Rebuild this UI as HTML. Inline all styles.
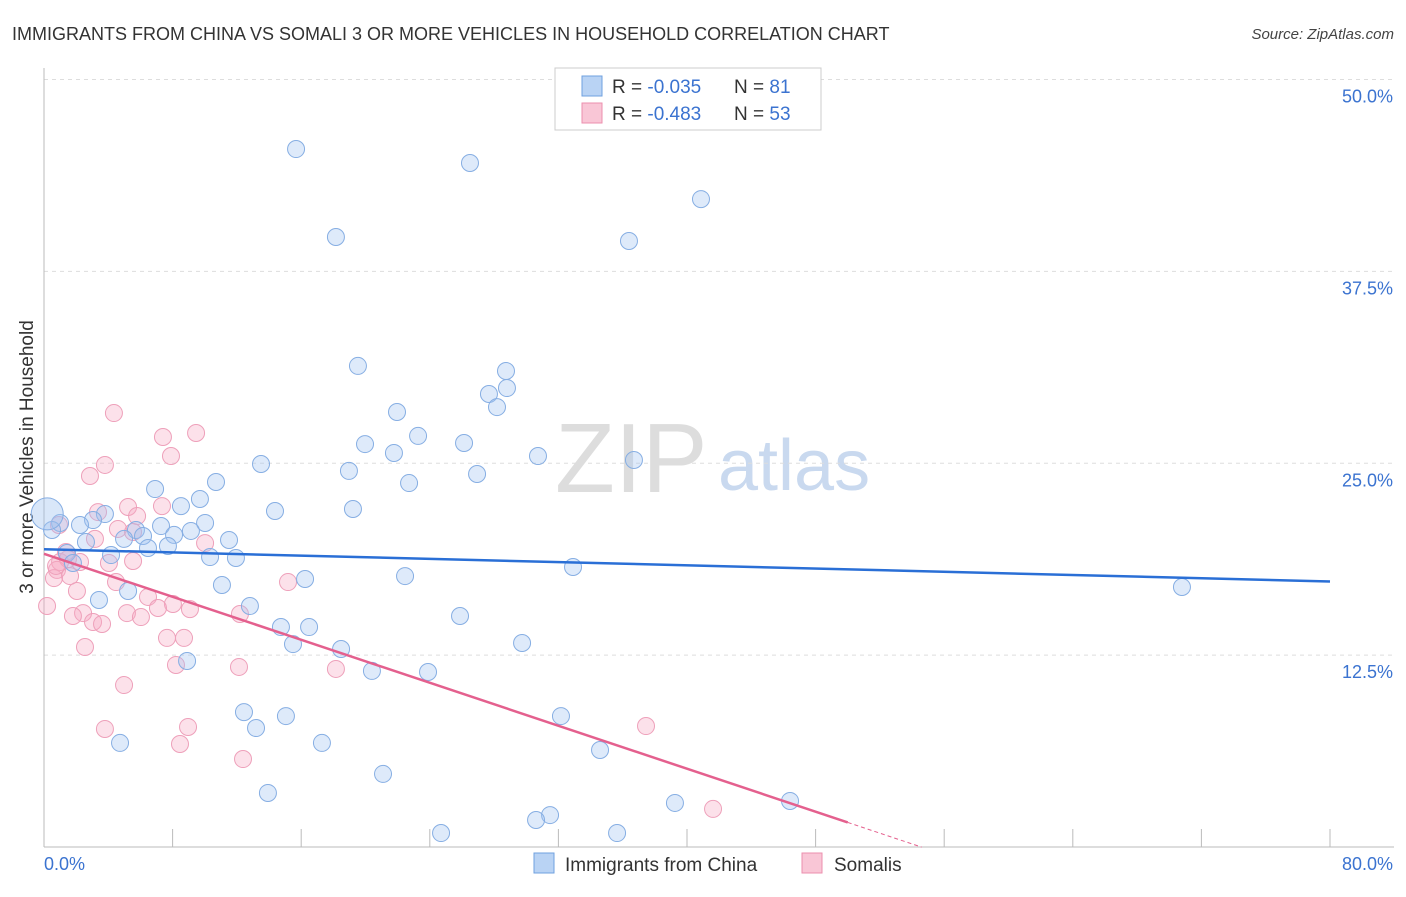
<!DOCTYPE html>
<html><head><meta charset="utf-8"><style>
body{margin:0;background:#fff;font-family:"Liberation Sans",sans-serif;}
svg text{font-family:"Liberation Sans",sans-serif;}
</style></head><body>
<svg id="chart" width="1406" height="892" xmlns="http://www.w3.org/2000/svg">
<text x="12" y="40" font-size="18" fill="#333">IMMIGRANTS FROM CHINA VS SOMALI 3 OR MORE VEHICLES IN HOUSEHOLD CORRELATION CHART</text>
<text x="1394" y="39" font-size="15" fill="#444" font-style="italic" text-anchor="end">Source: ZipAtlas.com</text>
<text transform="translate(33,457) rotate(-90)" font-size="19" fill="#333" text-anchor="middle">3 or more Vehicles in Household</text>
<text x="555" y="492" font-size="98" fill="#ddd" font-family="Liberation Serif">ZIP</text>
<text x="718" y="490" font-size="72" fill="#c9d9ef">atlas</text>
<g id="grid"></g><g id="axes"></g><g id="pts"></g><g id="lines"></g>
<g>
<rect x="555" y="68" width="266" height="62" fill="#fff" stroke="#ccc"/>
<rect x="582" y="76" width="20" height="20" fill="#b9d3f4" stroke="#6fa0df"/>
<rect x="582" y="103" width="20" height="20" fill="#f9c6d6" stroke="#ec8fae"/>
<text x="612" y="93" font-size="19" fill="#333">R = <tspan fill="#3b73d0">-0.035</tspan></text>
<text x="734" y="93" font-size="19" fill="#333">N =  <tspan fill="#3b73d0">81</tspan></text>
<text x="612" y="120" font-size="19" fill="#333">R = <tspan fill="#3b73d0">-0.483</tspan></text>
<text x="734" y="120" font-size="19" fill="#333">N = <tspan fill="#3b73d0">53</tspan></text>
</g>
<g>
<rect x="534" y="853" width="20" height="20" fill="#b9d3f4" stroke="#6fa0df"/>
<text x="565" y="871" font-size="19" fill="#333">Immigrants from China</text>
<rect x="802" y="853" width="20" height="20" fill="#f9c6d6" stroke="#ec8fae"/>
<text x="834" y="871" font-size="19" fill="#333">Somalis</text>
</g>
</svg>
<script>
const bluePx=[[296,149],[470,163],[701,199],[336,237],[629,241],[358,366],[506,371],[489,394],[507,388],[497,407],[397,412],[418,436],[365,444],[464,443],[394,453],[538,456],[634,460],[261,464],[349,471],[477,474],[409,483],[155,489],[216,482],[200,499],[181,506],[275,511],[353,509],[105,514],[93,520],[60,523],[80,525],[52,530],[161,526],[205,523],[136,530],[191,531],[174,535],[86,542],[124,539],[143,536],[229,540],[168,546],[148,548],[111,555],[67,553],[210,557],[236,558],[73,563],[573,567],[405,576],[305,579],[222,585],[128,591],[1182,587],[99,600],[250,606],[460,616],[281,627],[309,627],[293,644],[522,643],[341,649],[187,661],[372,671],[428,672],[244,712],[286,716],[561,716],[256,728],[120,743],[322,743],[600,750],[383,774],[268,793],[675,803],[790,801],[550,815],[536,820],[441,833],[617,833]];
const pinkPx=[[114,413],[196,433],[163,437],[171,456],[105,465],[90,476],[128,507],[98,512],[162,506],[137,516],[59,525],[118,529],[133,532],[205,543],[95,539],[60,562],[68,559],[80,562],[109,563],[133,561],[57,570],[70,576],[54,578],[116,582],[77,591],[148,597],[173,604],[158,608],[190,609],[127,613],[240,614],[83,613],[73,616],[141,617],[93,622],[102,624],[184,638],[167,638],[85,647],[288,582],[176,665],[239,667],[336,669],[124,685],[188,727],[105,729],[646,726],[180,744],[243,759],[713,809],[47,606],[56,566],[66,552]];
const toX=p=>+((p-44)/16.075).toFixed(2), toY=p=>+((847-p)/15.35).toFixed(2);
const chinaX=bluePx.map(p=>toX(p[0])), chinaY=bluePx.map(p=>toY(p[1]));
const somaliX=pinkPx.map(p=>toX(p[0])), somaliY=pinkPx.map(p=>toY(p[1]));
const yTicks=[12.5,25,37.5,50], yTickLabels=["12.5%","25.0%","37.5%","50.0%"];
const xTicks=[0,8,16,24,32,40,48,56,64,72,80];
const chinaTrend=[19.4,17.3], somaliTrend=[19.1,-0.35];
const sx=v=>44+v*16.075, sy=v=>847-v*15.35;
const NS="http://www.w3.org/2000/svg";
function mk(tag,attrs,parent){const e=document.createElementNS(NS,tag);for(const k in attrs)e.setAttribute(k,attrs[k]);document.getElementById(parent).appendChild(e);return e;}
yTicks.forEach((t,i)=>{
 const l=mk('line',{x1:44,x2:1394,y1:sy(t),y2:sy(t),stroke:'#ddd','stroke-dasharray':'4,4'},'grid');
 
 
 const tx=mk('text',{x:1393,y:sy(t)+23,'font-size':18,fill:'#3b73d0','text-anchor':'end'},'grid');
 tx.textContent=yTickLabels[i];
 
 
});
const ax=mk('line',{x1:44,x2:44,y1:68,y2:847,stroke:'#bbb'},'axes');


const bx=mk('line',{x1:44,x2:1394,y1:847,y2:847,stroke:'#bbb'},'axes');


xTicks.forEach(t=>{const l=mk('line',{x1:sx(t),x2:sx(t),y1:829,y2:847,stroke:'#bbb'},'axes');
 
 });
[[0,"0.0%",'start',44],[80,"80.0%",'end',1393]].forEach(a=>{const t=mk('text',{x:a[3],y:870,'font-size':18,fill:'#3b73d0','text-anchor':a[2]},'axes');t.textContent=a[1];
 
 });
somaliX.forEach((x,i)=>{const c=mk('circle',{cx:sx(x),cy:sy(somaliY[i]),r:8.5,fill:'rgba(246,170,196,0.35)',stroke:'#eea0ba','stroke-width':1},'pts');
 
 });
chinaX.forEach((x,i)=>{const c=mk('circle',{cx:sx(x),cy:sy(chinaY[i]),r:8.5,fill:'rgba(160,196,240,0.35)',stroke:'#86aee3','stroke-width':1},'pts');
 
 });
const big=mk('circle',{cx:sx(0.2),cy:sy(21.7),r:16,fill:'rgba(160,196,240,0.4)',stroke:'#86aee3'},'pts');


const cl=mk('line',{x1:sx(0),y1:sy(chinaTrend[0]),x2:sx(80),y2:sy(chinaTrend[1]),stroke:'#2a6fd6','stroke-width':2.5},'lines');


const slope=somaliTrend[1];
const pl=mk('line',{x1:sx(0),y1:sy(somaliTrend[0]),x2:sx(50),y2:sy(somaliTrend[0]+slope*50),stroke:'#e4608e','stroke-width':2.5},'lines');


const pd=mk('line',{x1:sx(50),y1:sy(somaliTrend[0]+slope*50),x2:sx(54.6),y2:sy(somaliTrend[0]+slope*54.6),stroke:'#e4608e','stroke-width':1,'stroke-dasharray':'4,3'},'lines');


</script>
</body></html>
